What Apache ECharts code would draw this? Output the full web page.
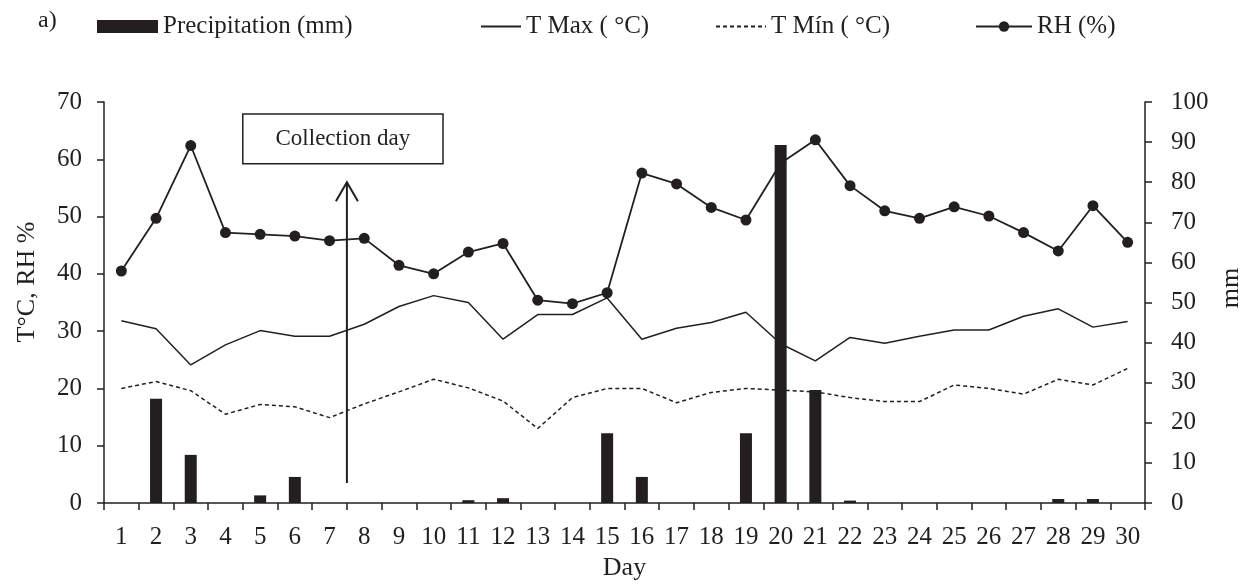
<!DOCTYPE html>
<html>
<head>
<meta charset="utf-8">
<script src="https://cdn.jsdelivr.net/npm/echarts@6/dist/echarts.min.js"></script>
<style>
html, body { margin: 0; padding: 0; background: #fff; }
#chart { width: 1247px; height: 585px; }
</style>
</head>
<body>
<div id="chart"></div>
<script>
"use strict";
// data
var days = ['1','2','3','4','5','6','7','8','9','10','11','12','13','14','15',
            '16','17','18','19','20','21','22','23','24','25','26','27','28','29','30'];
var precip = [0, 26, 12, 0, 1.9, 6.5, 0, 0, 0, 0, 0.7, 1.2, 0, 0, 17.4,
              6.5, 0, 0, 17.4, 89.3, 28.2, 0.6, 0, 0, 0, 0, 0, 1.0, 1.0, 0];
var tMax = [31.8, 30.4, 24.1, 27.6, 30.1, 29.1, 29.1, 31.2, 34.3, 36.2, 35.0, 28.6, 32.9, 32.9, 35.8,
            28.6, 30.5, 31.5, 33.3, 27.8, 24.8, 28.9, 27.9, 29.1, 30.2, 30.2, 32.6, 33.9, 30.7, 31.7];
var tMin = [20.0, 21.2, 19.6, 15.5, 17.2, 16.8, 14.9, 17.3, 19.4, 21.6, 20.1, 17.8, 13.0, 18.4, 20.0,
            20.0, 17.5, 19.3, 20.0, 19.7, 19.4, 18.4, 17.7, 17.7, 20.6, 20.0, 19.0, 21.6, 20.6, 23.5];
var rh = [40.5, 49.7, 62.4, 47.2, 46.9, 46.6, 45.8, 46.2, 41.5, 40.0, 43.8, 45.3, 35.4, 34.8, 36.7,
          57.6, 55.7, 51.6, 49.4, 59.3, 63.4, 55.4, 51.0, 49.7, 51.7, 50.1, 47.2, 44.0, 51.9, 45.5];

// collection-day note (day position, left-axis units)
var arrowX = 7.5, arrowFoot = 3.5, arrowTip = 56;
var boxX = [4.5, 10.27], boxY = [59.2, 67.9];

var ink = '#231f20';
var serif = '"Liberation Serif", "Times New Roman", serif';
var txt = { color: ink, fontFamily: serif, fontSize: 25 };

var myChart = echarts.init(document.getElementById('chart'));

var option = {
    backgroundColor: '#fff',
    animation: false,
    textStyle: { fontFamily: serif, color: ink },
    grid: { left: 104, right: 102, top: 102, bottom: 82, containLabel: false, outerBoundsMode: 'none' },
    legend: [
        { data: ['Precipitation (mm)'], left: 97, top: 14, padding: 0, icon: 'rect', itemWidth: 61, itemHeight: 13, textStyle: txt },
        { data: ['T Max ( °C)'], left: 480, top: 14, padding: 0, itemWidth: 40, itemHeight: 13,
          itemStyle: { opacity: 0 }, textStyle: txt },
        { data: ['T Mín ( °C)'], left: 715, top: 14, padding: 0, itemWidth: 50, itemHeight: 13,
          itemStyle: { opacity: 0 }, textStyle: txt },
        { data: ['RH (%)'], left: 975, top: 14, padding: 0, itemWidth: 56, itemHeight: 13, textStyle: txt }
    ],
    xAxis: [
        {
            type: 'category',
            data: days,
            boundaryGap: true,
            name: 'Day',
            nameLocation: 'middle',
            nameGap: 52,
            nameTextStyle: { color: ink, fontFamily: serif, fontSize: 26 },
            axisLine: { lineStyle: { color: ink, width: 1.5 } },
            axisTick: { show: true, inside: false, length: 7, alignWithLabel: false, interval: 0, lineStyle: { color: ink, width: 1.5 } },
            axisLabel: { interval: 0, margin: 22, color: ink, fontFamily: serif, fontSize: 25 },
            splitLine: { show: false }
        },
        { type: 'value', min: 0.5, max: 30.5, show: false }
    ],
    yAxis: [
        {
            type: 'value',
            min: 0, max: 70, interval: 10,
            axisLine: { show: true, lineStyle: { color: ink, width: 1.5 } },
            axisTick: { show: true, length: 7, lineStyle: { color: ink, width: 1.5 } },
            axisLabel: { margin: 22, color: ink, fontFamily: serif, fontSize: 25 },
            splitLine: { show: false }
        },
        {
            type: 'value',
            min: 0, max: 100, interval: 10,
            position: 'right',
            axisLine: { show: true, lineStyle: { color: ink, width: 1.5 } },
            axisTick: { show: true, length: 7, lineStyle: { color: ink, width: 1.5 } },
            axisLabel: { margin: 26, color: ink, fontFamily: serif, fontSize: 25 },
            splitLine: { show: false }
        }
    ],
    graphic: [
        { type: 'text', left: 38, top: 9, style: { text: 'a)', font: '24px ' + serif, fill: ink } },
        { type: 'text', x: 27, y: 282, rotation: Math.PI / 2,
          style: { text: 'T°C, RH %', font: '26px ' + serif, fill: ink, align: 'center', verticalAlign: 'middle' } },
        { type: 'text', x: 1231, y: 288, rotation: Math.PI / 2,
          style: { text: 'mm', font: '26px ' + serif, fill: ink, align: 'center', verticalAlign: 'middle' } }
    ],
    series: [
        {
            name: 'T Max ( °C)',
            type: 'line',
            data: tMax,
            symbol: 'none',
            z: 2,
            lineStyle: { color: ink, width: 1.5 },
            itemStyle: { color: ink }
        },
        {
            name: 'T Mín ( °C)',
            type: 'line',
            data: tMin,
            symbol: 'none',
            z: 2,
            lineStyle: { color: ink, width: 1.5, type: [4, 3] },
            itemStyle: { color: ink }
        },
        {
            name: 'RH (%)',
            type: 'line',
            data: rh,
            symbol: 'circle',
            symbolSize: 11,
            z: 2,
            lineStyle: { color: ink, width: 1.8 },
            itemStyle: { color: ink }
        },
        {
            name: 'Precipitation (mm)',
            type: 'bar',
            yAxisIndex: 1,
            data: precip,
            barWidth: 12,
            z: 3,
            itemStyle: { color: ink }
        },
        {
            // collection day note
            type: 'custom',
            xAxisIndex: 1,
            yAxisIndex: 0,
            z: 4,
            silent: true,
            clip: false,
            data: [[arrowX, arrowTip]],
            renderItem: function (params, api) {
                var tip = api.coord([arrowX, arrowTip]);
                var foot = api.coord([arrowX, arrowFoot]);
                var b0 = api.coord([boxX[0], boxY[1]]);
                var b1 = api.coord([boxX[1], boxY[0]]);
                return {
                    type: 'group',
                    children: [
                        { type: 'line', shape: { x1: foot[0], y1: foot[1], x2: tip[0], y2: tip[1] },
                          style: { stroke: ink, lineWidth: 2 } },
                        { type: 'polyline', shape: { points: [[tip[0] - 11, tip[1] + 19], [tip[0], tip[1]], [tip[0] + 11, tip[1] + 19]] },
                          style: { stroke: ink, lineWidth: 2, fill: null } },
                        { type: 'rect', shape: { x: b0[0], y: b0[1], width: b1[0] - b0[0], height: b1[1] - b0[1] },
                          style: { stroke: ink, lineWidth: 1.5, fill: '#fff' } },
                        { type: 'text', x: (b0[0] + b1[0]) / 2, y: (b0[1] + b1[1]) / 2,
                          style: { text: 'Collection day', font: '23px ' + serif, fill: ink, align: 'center', verticalAlign: 'middle' } }
                    ]
                };
            }
        }
    ]
};
myChart.setOption(option);

window.onresize = function () {
    myChart.resize();
};
</script>
</body>
</html>
